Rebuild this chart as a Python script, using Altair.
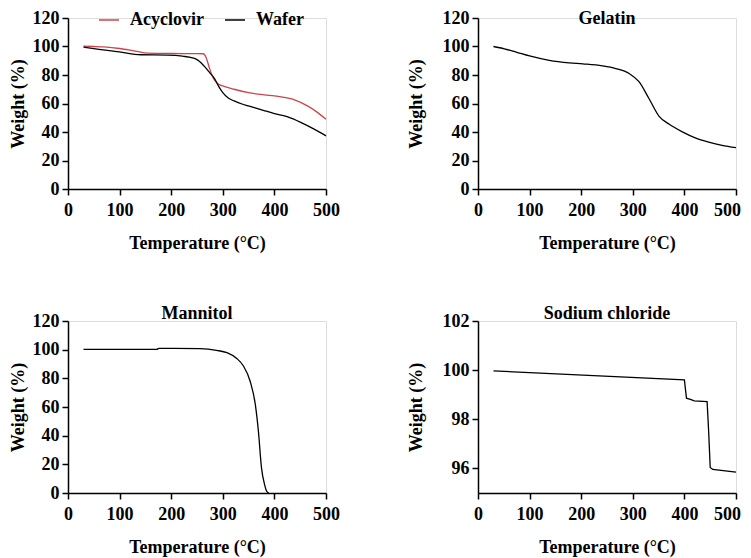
import altair as alt
import pandas as pd

FONT = "'Liberation Serif', 'Times New Roman', serif"
RED = "#c8464b"

# ---- Acyclovir / Wafer ----
acy_temp = [30, 50, 70, 100, 130, 155, 200, 250, 262, 268, 274, 280, 286, 292, 300, 322, 350, 400, 439, 464, 484, 500]
acy_wt = [100.2, 100.0, 99.7, 98.6, 96.8, 95.3, 95.1, 95.0, 94.9, 92.0, 85.0, 79.0, 75.5, 73.5, 72.3, 70.0, 67.6, 65.3, 62.5, 58.3, 53.6, 49.0]
waf_temp = [30, 60, 99, 141, 193, 222, 245, 255, 264, 275, 283, 292, 300, 310, 322, 340, 361, 380, 400, 426, 452, 477, 500]
waf_wt = [99.5, 98.0, 96.3, 94.2, 94.0, 93.2, 91.6, 89.5, 86.2, 81.5, 78.0, 72.0, 67.6, 64.0, 61.8, 59.3, 57.1, 55.0, 52.9, 50.6, 46.6, 42.0, 37.3]

# ---- Gelatin ----
gel_temp = [30, 51, 74, 100, 138, 177, 203, 241, 267, 293, 312, 331, 351, 370, 396, 421, 447, 473, 500]
gel_wt = [100.0, 98.4, 96.1, 93.4, 90.3, 88.5, 87.8, 86.4, 84.5, 81.0, 75.3, 63.7, 51.0, 45.6, 40.1, 35.9, 32.9, 30.6, 29.0]

# ---- Mannitol ----
man_temp = [30, 172, 176, 205, 256, 288, 308, 327, 340, 353, 363, 369, 375, 381, 385, 389]
man_wt = [100.2, 100.2, 100.9, 100.9, 100.7, 99.5, 97.9, 93.9, 88.6, 78.0, 61.8, 43.1, 17.5, 5.8, 1.2, 0.0]

# ---- Sodium chloride ----
nacl_temp = [30, 400, 404, 413, 419, 444, 447, 450, 455, 500]
nacl_wt = [99.97, 99.6, 98.86, 98.8, 98.75, 98.72, 97.5, 96.04, 95.96, 95.85]

x_ticks = [0, 100, 200, 300, 400, 500]
y_ticks = [0, 20, 40, 60, 80, 100, 120]
nacl_ticks = [96, 98, 100, 102]

W, H_TOP, H_BOT = 258, 171, 172

axis_style = dict(
    labelFont=FONT, labelFontWeight="bold", labelFontSize=18, labelColor="black",
    titleFont=FONT, titleFontWeight="bold", titleFontSize=18, titleColor="black",
    domainColor="black", domainWidth=1.5, tickColor="black", tickWidth=1.5,
    tickSize=6, grid=False, labelFlush=False, labelOverlap=False,
)


def x_enc(right_col=False):
    extra = {}
    if right_col:
        extra["labelOffset"] = {"condition": {"test": "datum.value === 500", "value": -9}, "value": 0}
    return alt.X("t:Q", scale=alt.Scale(domain=[0, 500], nice=False),
                 axis=alt.Axis(values=x_ticks, title="Temperature (°C)",
                               labelPadding=6, titlePadding=15, **axis_style, **extra))


def y_enc(ticks, domain, tpad):
    return alt.Y("w:Q", scale=alt.Scale(domain=domain, nice=False, zero=False),
                 axis=alt.Axis(values=ticks, title="Weight (%)", labelPadding=3,
                               titlePadding=tpad, **axis_style))


def title_params(text, top_row):
    if top_row:
        return alt.TitleParams(text, font=FONT, fontWeight="bold", fontSize=18, color="black",
                               anchor="middle", baseline="top", offset=-19)
    return alt.TitleParams(text, font=FONT, fontWeight="bold", fontSize=18, color="black",
                           anchor="middle", baseline="alphabetic", offset=-25)


df1 = pd.concat([
    pd.DataFrame({"t": acy_temp, "w": acy_wt, "s": "Acyclovir"}),
    pd.DataFrame({"t": waf_temp, "w": waf_wt, "s": "Wafer"}),
])
p1 = alt.Chart(df1).mark_line(strokeWidth=1.3, interpolate="monotone").encode(
    x=x_enc(),
    y=y_enc(y_ticks, [0, 120], 5),
    color=alt.Color("s:N", scale=alt.Scale(domain=["Acyclovir", "Wafer"], range=[RED, "black"]),
                    legend=alt.Legend(orient="none", legendX=30, legendY=-9, direction="horizontal",
                                      title=None, labelFont=FONT, labelFontWeight="bold",
                                      labelFontSize=18, labelColor="black", symbolType="stroke",
                                      symbolSize=400, symbolStrokeWidth=1.5, labelOffset=10,
                                      columnPadding=18)),
).properties(width=W, height=H_TOP)

p2 = alt.Chart(pd.DataFrame({"t": gel_temp, "w": gel_wt})).mark_line(
    strokeWidth=1.3, color="black", interpolate="monotone").encode(
    x=x_enc(True), y=y_enc(y_ticks, [0, 120], 17),
).properties(width=W, height=H_TOP, title=title_params("Gelatin", True))

p3 = alt.Chart(pd.DataFrame({"t": man_temp, "w": man_wt})).mark_line(
    strokeWidth=1.3, color="black", interpolate="monotone").encode(
    x=x_enc(), y=y_enc(y_ticks, [0, 120], 5),
).properties(width=W, height=H_BOT, title=title_params("Mannitol", False))

p4 = alt.Chart(pd.DataFrame({"t": nacl_temp, "w": nacl_wt})).mark_line(
    strokeWidth=1.3, color="black").encode(
    x=x_enc(True), y=y_enc(nacl_ticks, [95, 102], 17),
).properties(width=W, height=H_BOT, title=title_params("Sodium chloride", False))

chart = alt.concat(p1, p2, p3, p4, columns=2, spacing={"row": 132, "column": 152},
                   bounds="flush").properties(
    padding={"left": 0, "top": 0, "right": 0, "bottom": 2}
).configure_view(stroke=None).configure(background="white")

chart.save("out.html", embed_options={"renderer": "svg", "actions": False})
